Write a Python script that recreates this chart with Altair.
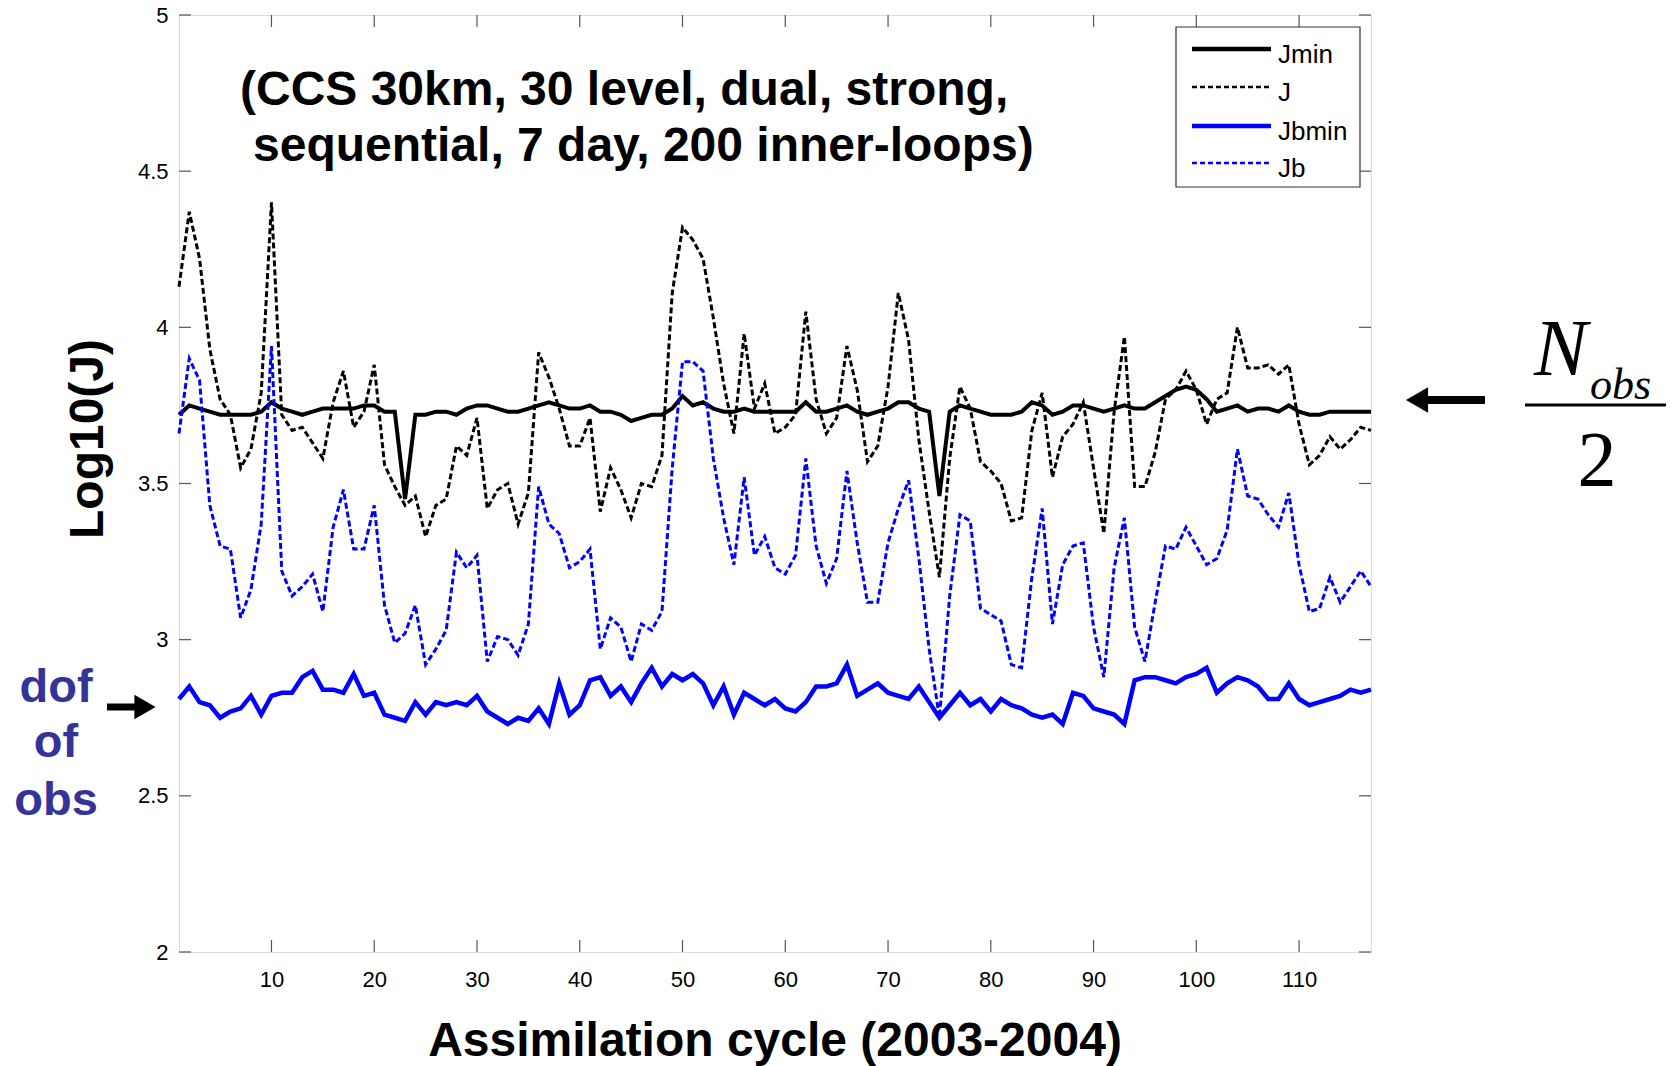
import altair as alt
import pandas as pd

# ---------------- data ----------------
CYCLES = list(range(1, 118))

JMIN = [3.72, 3.75, 3.74, 3.73, 3.72, 3.72, 3.72, 3.72, 3.73, 3.76,
        3.74, 3.73, 3.72, 3.73, 3.74, 3.74, 3.74, 3.74, 3.75, 3.75,
        3.73, 3.73, 3.45, 3.72, 3.72, 3.73, 3.73, 3.72, 3.74, 3.75,
        3.75, 3.74, 3.73, 3.73, 3.74, 3.75, 3.76, 3.75, 3.74, 3.74,
        3.75, 3.73, 3.73, 3.72, 3.70, 3.71, 3.72, 3.72, 3.74, 3.78,
        3.75, 3.76, 3.74, 3.73, 3.73, 3.74, 3.73, 3.73, 3.73, 3.73,
        3.73, 3.76, 3.73, 3.73, 3.74, 3.75, 3.73, 3.72, 3.73, 3.74,
        3.76, 3.76, 3.74, 3.73, 3.46, 3.73, 3.75, 3.74, 3.73, 3.72,
        3.72, 3.72, 3.73, 3.76, 3.75, 3.72, 3.73, 3.75, 3.75, 3.74,
        3.73, 3.74, 3.75, 3.74, 3.74, 3.76, 3.78, 3.80, 3.81, 3.80,
        3.77, 3.73, 3.74, 3.75, 3.73, 3.74, 3.74, 3.73, 3.75, 3.73,
        3.72, 3.72, 3.73, 3.73, 3.73, 3.73, 3.73]

J = [4.13, 4.37, 4.22, 3.93, 3.77, 3.72, 3.55, 3.61, 3.79, 4.40,
     3.72, 3.67, 3.68, 3.63, 3.58, 3.76, 3.86, 3.68, 3.73, 3.88,
     3.56, 3.49, 3.43, 3.46, 3.33, 3.43, 3.45, 3.62, 3.59, 3.71,
     3.42, 3.48, 3.50, 3.37, 3.47, 3.92, 3.84, 3.74, 3.62, 3.62,
     3.71, 3.41, 3.55, 3.48, 3.39, 3.50, 3.49, 3.59, 4.11, 4.32,
     4.28, 4.22, 4.03, 3.82, 3.66, 3.98, 3.74, 3.82, 3.66, 3.68,
     3.72, 4.05, 3.77, 3.66, 3.71, 3.94, 3.80, 3.57, 3.62, 3.81,
     4.11, 3.96, 3.64, 3.41, 3.20, 3.58, 3.81, 3.74, 3.57, 3.54,
     3.50, 3.38, 3.39, 3.67, 3.79, 3.52, 3.65, 3.69, 3.76, 3.55,
     3.34, 3.73, 3.97, 3.49, 3.49, 3.60, 3.77, 3.80, 3.86, 3.80,
     3.69, 3.77, 3.79, 4.00, 3.87, 3.87, 3.88, 3.85, 3.88, 3.69,
     3.56, 3.59, 3.65, 3.61, 3.64, 3.68, 3.67]

JBMIN = [2.81, 2.85, 2.80, 2.79, 2.75, 2.77, 2.78, 2.82, 2.76, 2.82,
         2.83, 2.83, 2.88, 2.90, 2.84, 2.84, 2.83, 2.89, 2.82, 2.83,
         2.76, 2.75, 2.74, 2.80, 2.76, 2.80, 2.79, 2.80, 2.79, 2.82,
         2.77, 2.75, 2.73, 2.75, 2.74, 2.78, 2.73, 2.86, 2.76, 2.79,
         2.87, 2.88, 2.82, 2.85, 2.80, 2.86, 2.91, 2.85, 2.89, 2.87,
         2.89, 2.86, 2.79, 2.85, 2.76, 2.83, 2.81, 2.79, 2.81, 2.78,
         2.77, 2.80, 2.85, 2.85, 2.86, 2.92, 2.82, 2.84, 2.86, 2.83,
         2.82, 2.81, 2.85, 2.80, 2.75, 2.79, 2.83, 2.79, 2.81, 2.77,
         2.81, 2.79, 2.78, 2.76, 2.75, 2.76, 2.73, 2.83, 2.82, 2.78,
         2.77, 2.76, 2.73, 2.87, 2.88, 2.88, 2.87, 2.86, 2.88, 2.89,
         2.91, 2.83, 2.86, 2.88, 2.87, 2.85, 2.81, 2.81, 2.86, 2.81,
         2.79, 2.80, 2.81, 2.82, 2.84, 2.83, 2.84]

JB = [3.66, 3.90, 3.83, 3.43, 3.30, 3.29, 3.07, 3.16, 3.37, 3.94,
      3.22, 3.14, 3.17, 3.21, 3.09, 3.36, 3.48, 3.29, 3.29, 3.43,
      3.11, 2.99, 3.02, 3.11, 2.92, 2.97, 3.03, 3.28, 3.23, 3.27,
      2.93, 3.01, 3.00, 2.95, 3.05, 3.49, 3.37, 3.34, 3.23, 3.25,
      3.29, 2.97, 3.07, 3.04, 2.93, 3.05, 3.03, 3.09, 3.55, 3.89,
      3.89, 3.86, 3.58, 3.39, 3.24, 3.52, 3.27, 3.33, 3.23, 3.21,
      3.27, 3.58, 3.30, 3.18, 3.26, 3.54, 3.31, 3.12, 3.12, 3.31,
      3.42, 3.51, 3.26, 2.97, 2.75, 3.14, 3.40, 3.38, 3.10, 3.08,
      3.06, 2.92, 2.91, 3.20, 3.42, 3.05, 3.24, 3.30, 3.31, 3.04,
      2.88, 3.23, 3.39, 3.04, 2.93, 3.12, 3.30, 3.29, 3.36, 3.30,
      3.24, 3.26, 3.35, 3.61, 3.46, 3.45, 3.40, 3.36, 3.47, 3.24,
      3.09, 3.10, 3.20, 3.12, 3.17, 3.22, 3.17]

SERIES = ["Jmin", "J", "Jbmin", "Jb"]
X_TICKS = [10, 20, 30, 40, 50, 60, 70, 80, 90, 100, 110]
Y_TICKS = [2, 2.5, 3, 3.5, 4, 4.5, 5]

TITLE_1 = "(CCS 30km, 30 level, dual, strong,"
TITLE_2 = "sequential, 7 day, 200 inner-loops)"
X_TITLE = "Assimilation cycle (2003-2004)"
Y_TITLE = "Log10(J)"
DOF_LINES = ["dof", "of", "obs"]

# ---------------- styles ----------------
BLUE = "#0000ff"
STYLE = {
    "Jmin": dict(color="black", strokeWidth=4),
    "J": dict(color="black", strokeWidth=3, strokeDash=[6, 3]),
    "Jbmin": dict(color=BLUE, strokeWidth=4.5),
    "Jb": dict(color=BLUE, strokeWidth=3, strokeDash=[6, 3]),
}
W, H = 1192, 937
FONT = "Liberation Sans"
SERIF = "Liberation Serif"
FRAME = "#555555"

rows = []
for name, vals in zip(SERIES, [JMIN, J, JBMIN, JB]):
    for c, v in zip(CYCLES, vals):
        rows.append({"cycle": c, "value": v, "series": name})
df = pd.DataFrame(rows)

xs = alt.Scale(domain=[1, 117], nice=False, zero=False)
ys = alt.Scale(domain=[2, 5], nice=False, zero=False)

x_axis = alt.Axis(values=X_TICKS, ticks=False, domain=False, grid=False,
                  labelFontSize=22, labelColor="black", labelPadding=17,
                  labelFont=FONT, title=None)
y_axis = alt.Axis(values=Y_TICKS, format="~g", ticks=False, domain=False,
                  grid=False, labelFontSize=22, labelColor="black",
                  labelPadding=11, labelFont=FONT, title=None)

layers = []
for name in SERIES:
    layers.append(
        alt.Chart(df).transform_filter(alt.datum.series == name)
        .mark_line(**STYLE[name])
        .encode(
            x=alt.X("cycle:Q", scale=xs, axis=x_axis),
            y=alt.Y("value:Q", scale=ys, axis=y_axis),
        )
    )

# inward tick marks on all four sides
xt = pd.DataFrame({"cycle": X_TICKS})
yt = pd.DataFrame({"value": Y_TICKS})
TL = 12
tick_kw = dict(color=FRAME, strokeWidth=1.2)
layers.append(alt.Chart(xt).mark_rule(**tick_kw).encode(
    x=alt.X("cycle:Q", scale=xs, axis=x_axis), y=alt.value(H), y2=alt.value(H - TL)))
layers.append(alt.Chart(xt).mark_rule(**tick_kw).encode(
    x=alt.X("cycle:Q", scale=xs, axis=x_axis), y=alt.value(0), y2=alt.value(TL)))
layers.append(alt.Chart(yt).mark_rule(**tick_kw).encode(
    y=alt.Y("value:Q", scale=ys, axis=y_axis), x=alt.value(0), x2=alt.value(TL)))
layers.append(alt.Chart(yt).mark_rule(**tick_kw).encode(
    y=alt.Y("value:Q", scale=ys, axis=y_axis), x=alt.value(W), x2=alt.value(W - TL)))

one = pd.DataFrame({"a": [0]})


def text(s, x, y, size, **kw):
    return alt.Chart(one).mark_text(text=s, fontSize=size, **kw).encode(
        x=alt.value(x), y=alt.value(y))


def rule(x1, x2, y1, y2, **kw):
    return alt.Chart(one).mark_rule(**kw).encode(
        x=alt.value(x1), x2=alt.value(x2), y=alt.value(y1), y2=alt.value(y2))


# legend
layers.append(alt.Chart(one).mark_rect(fill="white", stroke="#333333", strokeWidth=1.2).encode(
    x=alt.value(997), x2=alt.value(1181), y=alt.value(12), y2=alt.value(172)))
LEG_Y = [34, 72, 111, 148]
for name, ly in zip(SERIES, LEG_Y):
    st = dict(STYLE[name])
    if "strokeDash" in st:
        st["strokeWidth"] = 2.5
        st["strokeDash"] = [5, 3]
    else:
        st["strokeWidth"] = 4.5
    layers.append(rule(1013, 1092, ly, ly, **st))
    layers.append(text(name, 1099, ly + 14, 26, font=FONT, align="left",
                       baseline="alphabetic", color="black"))

# in-plot title
layers.append(text(TITLE_1, 61, 90, 48, font=FONT, fontWeight="bold", align="left",
                   baseline="alphabetic", color="black"))
layers.append(text(TITLE_2, 74, 146, 48, font=FONT, fontWeight="bold", align="left",
                   baseline="alphabetic", color="black"))

# axis titles
layers.append(text(X_TITLE, W / 2, 1041, 48, font=FONT, fontWeight="bold", align="center",
                   baseline="alphabetic", color="black"))
layers.append(text(Y_TITLE, -76, 424, 48, font=FONT, fontWeight="bold", align="center",
                   baseline="alphabetic", angle=270, color="black"))

# "dof of obs" annotation with arrow
for s, by in zip(DOF_LINES, [687, 742, 800]):
    layers.append(text(s, -123, by, 47, font=FONT, fontWeight="bold", align="center",
                       baseline="alphabetic", color="#333399"))
layers.append(rule(-72, -40, 692, 692, color="black", strokeWidth=7))
layers.append(alt.Chart(one).mark_point(shape="triangle-right", filled=True, color="black",
                                        opacity=1, size=600).encode(
    x=alt.value(-34), y=alt.value(692)))

# N_obs / 2 annotation with arrow
layers.append(rule(1240, 1306, 385, 385, color="black", strokeWidth=8))
layers.append(alt.Chart(one).mark_point(shape="triangle-left", filled=True, color="black",
                                        opacity=1, size=650).encode(
    x=alt.value(1238), y=alt.value(385)))
layers.append(text("N", 1355, 360, 80, font=SERIF, fontStyle="italic", align="left",
                   baseline="alphabetic", color="black"))
layers.append(text("obs", 1411, 384, 44, font=SERIF, fontStyle="italic", align="left",
                   baseline="alphabetic", color="black"))
layers.append(rule(1346, 1487, 390, 390, color="black", strokeWidth=3))
layers.append(text("2", 1418, 470, 78, font=SERIF, align="center",
                   baseline="alphabetic", color="black"))

chart = alt.layer(*layers).properties(
    width=W, height=H,
    padding={"left": 179, "top": 15, "right": 301, "bottom": 114},
    autosize=alt.AutoSizeParams(type="none"),
    background="white",
).configure_view(stroke=FRAME, strokeWidth=1.5).configure(font=FONT)

chart.save("out.html", embed_options={"renderer": "svg", "actions": False})
